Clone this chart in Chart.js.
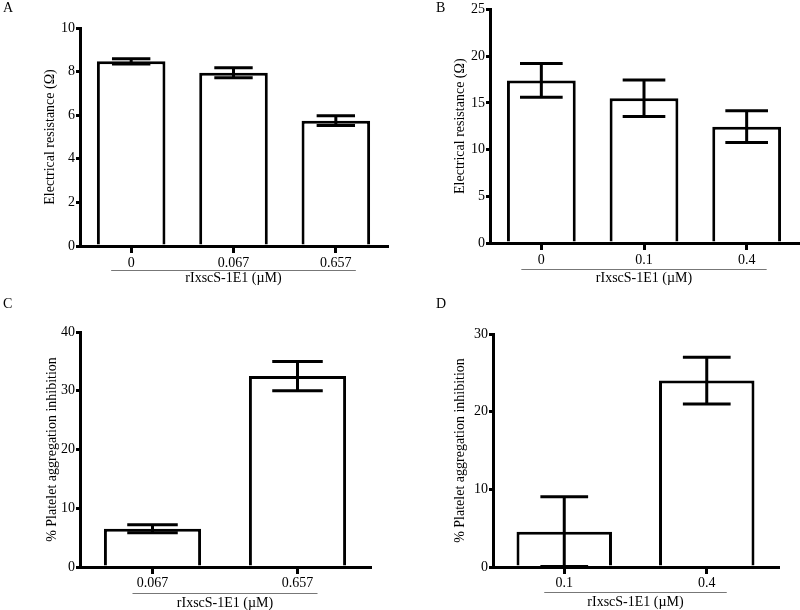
<!DOCTYPE html>
<html>
<head>
<meta charset="utf-8">
<script src="https://cdn.jsdelivr.net/npm/chart.js@4.4.0/dist/chart.umd.min.js"></script>
<style>
body { margin: 0; background: #fff; }
#wrap { position: relative; width: 800px; height: 610px; overflow: hidden; }
canvas { position: absolute; }
.tag { position: absolute; font: 14px "Liberation Serif", "Times New Roman", serif; color: #000; }
</style>
</head>
<body>
<div id="wrap">
  <canvas id="chartA" width="400" height="300" style="left:0;top:0"></canvas>
  <canvas id="chartB" width="400" height="300" style="left:400px;top:0"></canvas>
  <canvas id="chartC" width="400" height="310" style="left:0;top:300px"></canvas>
  <canvas id="chartD" width="400" height="310" style="left:400px;top:300px"></canvas>
  <div class="tag" style="left:3px;top:0px">A</div>
  <div class="tag" style="left:436px;top:0px">B</div>
  <div class="tag" style="left:3px;top:296px">C</div>
  <div class="tag" style="left:436px;top:296px">D</div>
</div>
<script>
// panel A - resistance
var labelsA = ['0', '0.067', '0.657'];
var meansA = [8.47, 7.95, 5.75];
var errsA = [0.12, 0.23, 0.22];

// panel B - resistance
var labelsB = ['0', '0.1', '0.4'];
var meansB = [17.4, 15.5, 12.45];
var errsB = [1.8, 1.95, 1.7];

// panel C - platelet aggregation
var labelsC = ['0.067', '0.657'];
var meansC = [6.5, 32.5];
var errsC = [0.68, 2.5];

// panel D - platelet aggregation
var labelsD = ['0.1', '0.4'];
var meansD = [4.55, 24.0];
var errsD = [4.5, 3.0];

var xTitle = 'rIxscS-1E1 (\u00b5M)';
var resTitle = 'Electrical resistance (\u03a9)';
var aggTitle = '% Platelet aggregation inhibition';

var serif = '"Liberation Serif", "Times New Roman", serif';
Chart.defaults.color = '#000';
Chart.defaults.font.family = serif;
Chart.defaults.font.size = 14;

// error bars + the grey line under the x tick labels
var extras = {
    id: 'extras',
    afterDatasetsDraw: function(chart, args, opts) {
        var meta = chart.getDatasetMeta(0);
        var y = chart.scales.y;
        var ctx = chart.ctx;
        ctx.save();
        ctx.strokeStyle = '#000';
        ctx.lineWidth = 3;
        meta.data.forEach(function(bar, i) {
            var m = opts.means[i], e = opts.errs[i];
            var top = y.getPixelForValue(m + e);
            var bot = y.getPixelForValue(Math.max(m - e, 0));
            var half = bar.width * opts.cap / 2;
            ctx.beginPath();
            ctx.moveTo(bar.x, top); ctx.lineTo(bar.x, bot);
            ctx.moveTo(bar.x - half, top); ctx.lineTo(bar.x + half, top);
            ctx.moveTo(bar.x - half, bot); ctx.lineTo(bar.x + half, bot);
            ctx.stroke();
        });
        ctx.restore();
    },
    afterDraw: function(chart, args, opts) {
        var x = chart.scales.x;
        var n = chart.data.labels.length;
        var ctx = chart.ctx;
        var yy = Math.round(chart.chartArea.bottom + opts.lineGap) + 0.5;
        ctx.save();
        ctx.strokeStyle = '#777';
        ctx.lineWidth = 1.2;
        ctx.beginPath();
        ctx.moveTo(x.getPixelForValue(0) - 20, yy);
        ctx.lineTo(x.getPixelForValue(n - 1) + 20, yy);
        ctx.stroke();
        ctx.restore();
    }
};

function makePanel(id, labels, means, errs, yMax, yStep, yTitle, g) {
    return new Chart(document.getElementById(id), {
        type: 'bar',
        data: {
            labels: labels,
            datasets: [{
                data: means,
                backgroundColor: '#fff',
                borderColor: '#000',
                borderWidth: 3,
                categoryPercentage: 1,
                barPercentage: 0.67
            }]
        },
        plugins: [extras],
        options: {
            responsive: false,
            animation: false,
            devicePixelRatio: 1,
            layout: { padding: { top: g.top, right: g.right, left: 0, bottom: 0 } },
            plugins: {
                legend: { display: false },
                tooltip: { enabled: false },
                extras: { means: means, errs: errs, cap: g.cap, lineGap: g.lineGap }
            },
            scales: {
                x: {
                    grid: { offset: false, drawOnChartArea: false, drawTicks: true, tickLength: 7, lineWidth: 3, color: '#000' },
                    border: { display: true, color: '#000', width: 3 },
                    ticks: { padding: g.xPad, color: '#000', font: { size: 14 } },
                    title: { display: true, text: xTitle, font: { size: 14, lineHeight: 1 }, padding: { top: 0, bottom: g.xTitlePad } },
                    afterFit: function(s) { s.height = g.xHeight; }
                },
                y: {
                    min: 0,
                    max: yMax,
                    ticks: { stepSize: yStep, padding: 1, color: '#000', font: { size: 14 } },
                    grid: { drawOnChartArea: false, drawTicks: true, tickLength: 4, lineWidth: 3, color: '#000' },
                    border: { display: true, color: '#000', width: 3 },
                    title: { display: true, text: yTitle, font: { size: 14, lineHeight: 1 }, padding: { top: g.yTitlePad, bottom: 0 } },
                    afterFit: function(s) { s.width = g.yWidth; }
                }
            }
        }
    });
}

makePanel('chartA', labelsA, meansA, errsA, 10, 2, resTitle,
    { top: 28, right: 13, yWidth: 80, xHeight: 54, xPad: 2, xTitlePad: 15, yTitlePad: 43, cap: 0.56, lineGap: 24 });
makePanel('chartB', labelsB, meansB, errsB, 25, 5, resTitle,
    { top: 8, right: 2, yWidth: 90, xHeight: 57, xPad: 2, xTitlePad: 15, yTitlePad: 53, cap: 0.62, lineGap: 26 });
makePanel('chartC', labelsC, meansC, errsC, 40, 10, aggTitle,
    { top: 32, right: 30, yWidth: 80, xHeight: 43, xPad: 1, xTitlePad: 0, yTitlePad: 45, cap: 0.52, lineGap: 26 });
makePanel('chartD', labelsD, meansD, errsD, 30, 10, aggTitle,
    { top: 34, right: 22, yWidth: 93, xHeight: 43, xPad: 1, xTitlePad: 1, yTitlePad: 53, cap: 0.5, lineGap: 25 });
</script>
</body>
</html>
